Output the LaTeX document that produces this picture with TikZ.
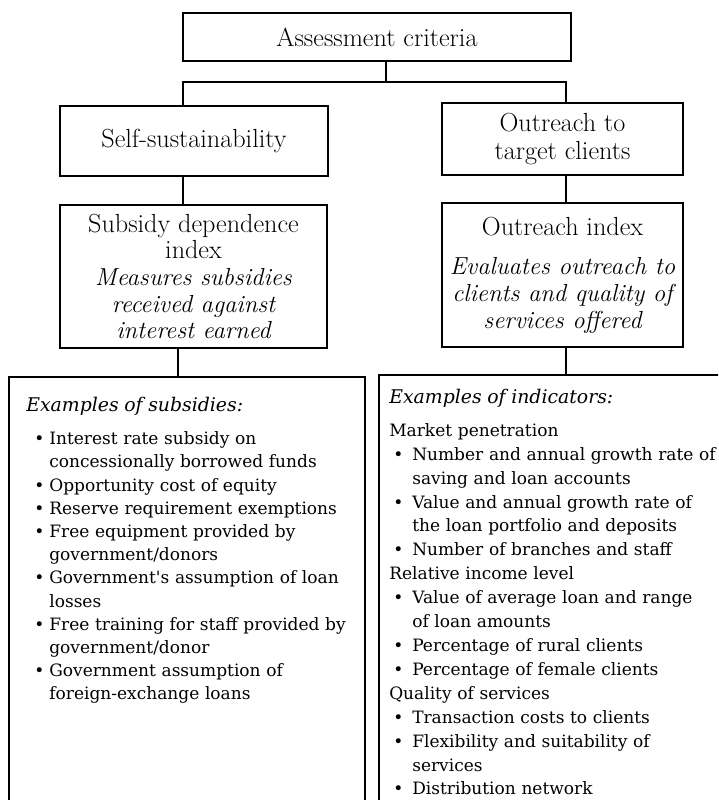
\documentclass[tikz,border=0pt]{standalone}
\usepackage{fontspec}
\newfontfamily\listfont{DejaVu Serif}
\newlength\bpre
\newlength\bw
\newcommand\bul[1]{\par\hspace*{\bpre}\makebox[\bw][l]{\textbullet}#1}
\newcommand\cnt[1]{\par\hspace*{\dimexpr\bpre+\bw\relax}#1}
\newcommand\itl[1]{{\fontsize{17.5}{19}\selectfont\itshape #1}}

\begin{document}
\begin{tikzpicture}[x=0.025cm, y=-0.025cm,
	box/.style={draw, line width=0.9pt, align=center, inner sep=0pt, font=\fontsize{18.6}{19}\selectfont},
	list/.style={anchor=north west, align=left, text width=11cm, inner sep=0pt, font=\listfont\fontsize{12.1}{16.5}\selectfont}]
	\clip (0,0) rectangle (718,800);
	\node[box, minimum width=9.7cm, minimum height=1.2cm] (crit) at (377,37) {Assessment criteria};
	\node[box, minimum width=6.7cm, minimum height=1.75cm] (ss) at (194,141) {Self-sustainability};
	\node[box, minimum width=6.025cm, minimum height=1.8cm] (out) at (562.5,139) {Outreach to\\[1pt]target clients};
	\node[box, minimum width=6.675cm, minimum height=3.575cm] (subdep) at (193.5,276.5) {Subsidy dependence\\index\\\itl{Measures subsidies}\\\itl{received against}\\\itl{interest earned}};
	\node[box, minimum width=6.025cm, minimum height=3.6cm] (oi) at (562.5,275) {Outreach index\\[9pt]\itl{Evaluates outreach to}\\\itl{clients and quality of}\\\itl{services offered}};
	\coordinate (mc) at (386,82);
	\coordinate (lc) at (183,82);
	\coordinate (rc) at (566,82);
	\coordinate (lb) at (178,377);
	\coordinate (rb) at (566,375);
	\draw[line width=0.9pt] (crit.south -| mc) -- (mc);
	\draw[line width=0.9pt] (lc |- ss.north) |- (rc) -- (rc |- out.north);
	\draw[line width=0.9pt] (ss.south -| lc) -- (lc |- subdep.north);
	\draw[line width=0.9pt] (out.south -| rc) -- (rc |- oi.north);
	\draw[line width=0.9pt] (subdep.south -| lb) -- (lb);
	\draw[line width=0.9pt] (oi.south -| rb) -- (rb);
	\draw[line width=0.9pt] (9,830) |- (365,377) -- (365,830);
	\draw[line width=0.9pt] (379,830) |- (740,375);
	\node[list] (subs) at (26,397) {\setlength\parindent{0pt}\setlength\bpre{5.7pt}\setlength\bw{10.7pt}%
		{\fontsize{13.4}{16.5}\selectfont\itshape Examples of subsidies:}\par\vspace{7pt}%
		\bul{Interest rate subsidy on}
		\cnt{concessionally borrowed funds}
		\bul{Opportunity cost of equity}
		\bul{Reserve requirement exemptions}
		\bul{Free equipment provided by}
		\cnt{government/donors}
		\bul{Government's assumption of loan}
		\cnt{losses}
		\bul{Free training for staff provided by}
		\cnt{government/donor}
		\bul{Government assumption of}
		\cnt{foreign-exchange loans}};
	\node[list] (inds) at (389,389) {\setlength\parindent{0pt}\setlength\bpre{2.85pt}\setlength\bw{13.5pt}%
		\fontsize{12.1}{17}\selectfont
		{\fontsize{13.4}{17}\selectfont\itshape Examples of indicators:}\par\vspace{6.3pt}%
		Market penetration
		\bul{Number and annual growth rate of}
		\cnt{saving and loan accounts}
		\bul{Value and annual growth rate of}
		\cnt{the loan portfolio and deposits}
		\bul{Number of branches and staff}
		\par Relative income level
		\bul{Value of average loan and range}
		\cnt{of loan amounts}
		\bul{Percentage of rural clients}
		\bul{Percentage of female clients}
		\par Quality of services
		\bul{Transaction costs to clients}
		\bul{Flexibility and suitability of}
		\cnt{services}
		\bul{Distribution network}};
\end{tikzpicture}
\end{document}
